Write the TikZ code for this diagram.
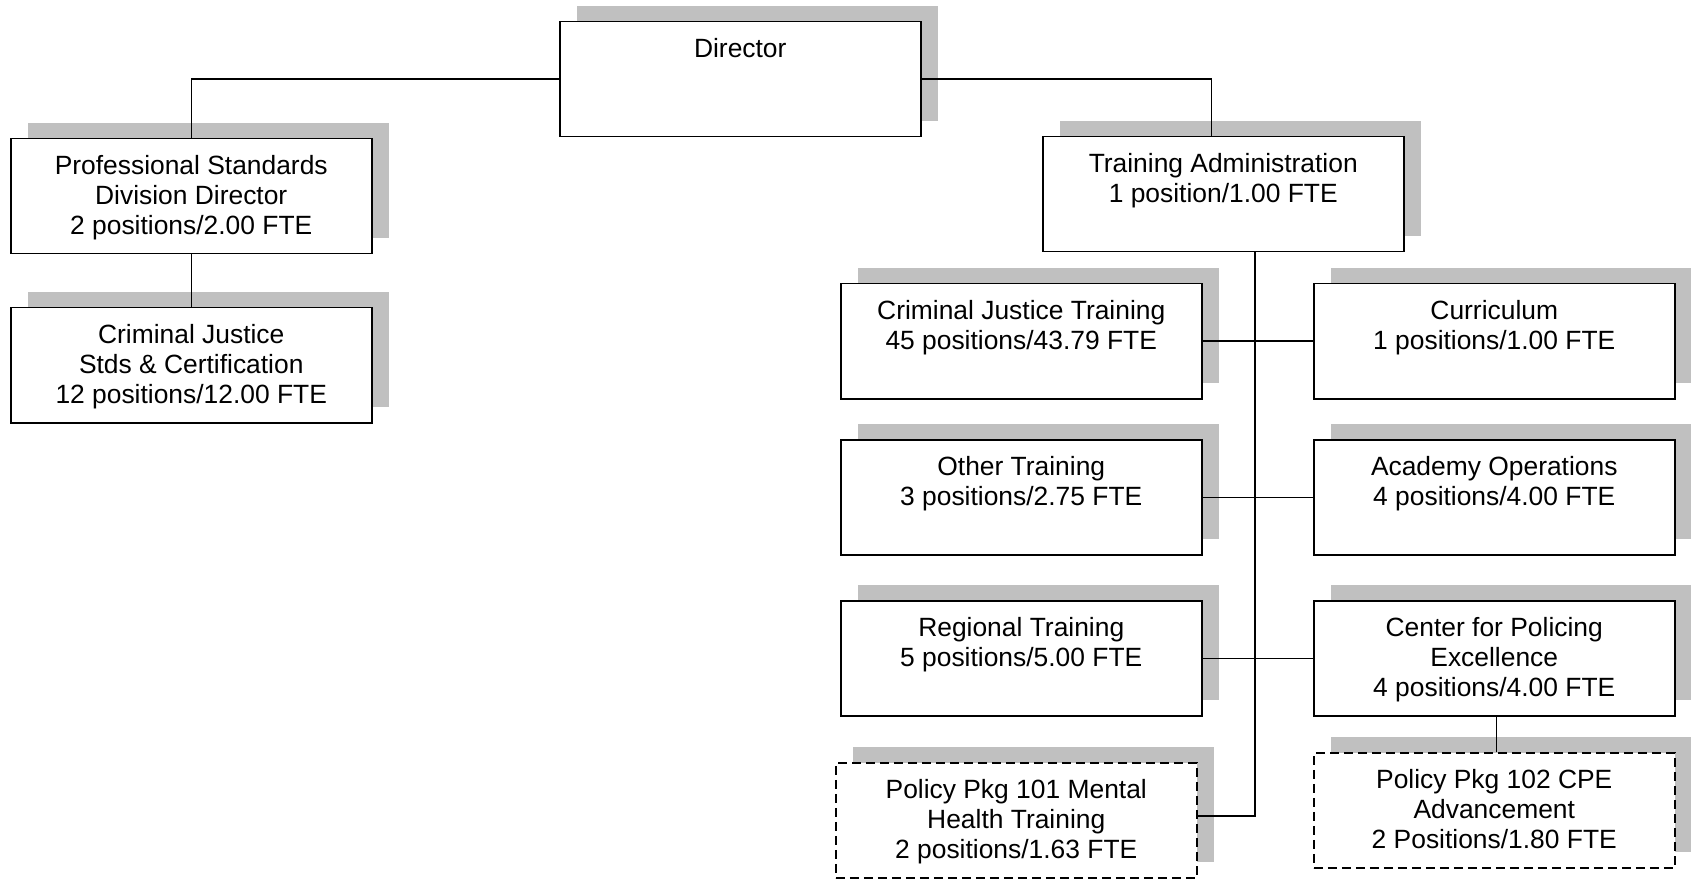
\documentclass[tikz,border=0pt]{standalone}
\usepackage{fontspec}
\setmainfont{Liberation Sans}
\usetikzlibrary{shadows}
\definecolor{shadowgray}{RGB}{192,192,192}
% box text: first baseline 36pt below the top edge, lines 30pt apart
\newcommand\orgtext[1]{\parbox[c][115pt][t]{361pt}{\centering\fontsize{26.4}{30}\selectfont\rule{0pt}{36pt}#1}}
\begin{document}
\begin{tikzpicture}[x=1pt,y=-1pt,
  orgbox/.style={draw=black, line width=1.5pt, fill=white, inner sep=0pt,
    anchor=north west,
    general shadow={shadow xshift=17pt, shadow yshift=16pt, fill=shadowgray}},
  newbox/.style={orgbox, dash pattern=on 9pt off 5pt},
  link/.style={draw=black, line width=1.5pt}]
\useasboundingbox (0,0) rectangle (1691,882);

% top level
\node[orgbox] (dir) at (559,21) {\orgtext{Director}};

% professional standards branch
\node[orgbox] (psd) at (10,138) {\orgtext{Professional Standards\\Division Director\\2 positions/2.00 FTE}};
\node[orgbox] (cjs) at (10,307) {\orgtext{Criminal Justice\\Stds \& Certification\\12 positions/12.00 FTE}};

% training branch
\node[orgbox] (tadm) at (1042,136) {\orgtext{Training Administration\\1 position/1.00 FTE}};

\node[orgbox] (cjt) at (840,283) {\orgtext{Criminal Justice Training\\45 positions/43.79 FTE}};
\node[orgbox] (oth) at (840,439) {\orgtext{Other Training\\3 positions/2.75 FTE}};
\node[orgbox] (reg) at (840,600) {\orgtext{Regional Training\\5 positions/5.00 FTE}};
\node[newbox] (pp101) at (835,762) {\orgtext{Policy Pkg 101 Mental\\Health Training\\2 positions/1.63 FTE}};

\node[orgbox] (cur) at (1313,283) {\orgtext{Curriculum\\1 positions/1.00 FTE}};
\node[orgbox] (aca) at (1313,439) {\orgtext{Academy Operations\\4 positions/4.00 FTE}};
\node[orgbox] (cpe) at (1313,600) {\orgtext{Center for Policing\\Excellence\\4 positions/4.00 FTE}};
\node[newbox] (pp102) at (1313,752) {\orgtext{Policy Pkg 102 CPE\\Advancement\\2 Positions/1.80 FTE}};

% connectors
\draw[link] (dir.west) -| (psd.north);
\draw[link] (psd.south) -- (cjs.north);
\draw[link] (dir.east) -| ([xshift=-12pt]tadm.north);
\draw[link] ([xshift=31.5pt]tadm.south) |- ([yshift=4.5pt]pp101.east);
\draw[link] (cjt.east) -- (cur.west);
\draw[link] (oth.east) -- (aca.west);
\draw[link] (reg.east) -- (cpe.west);
\draw[link] ([xshift=2pt]cpe.south) -- ([xshift=2pt]pp102.north);
\end{tikzpicture}
\end{document}
